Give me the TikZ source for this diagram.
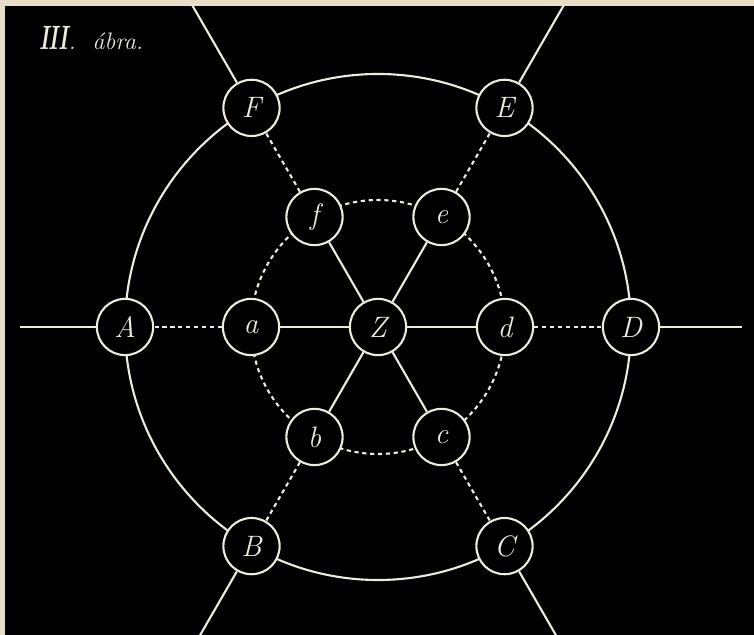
\documentclass[tikz,border=0pt]{standalone}
\usetikzlibrary{calc}
\definecolor{chalk}{RGB}{238,234,222}
\definecolor{paper}{RGB}{232,222,200}
\begin{document}
\begin{tikzpicture}[x=0.025cm,y=0.025cm,
		line width=1.5pt,
		knot/.style={circle,draw=chalk,fill=black,minimum size=40,inner sep=0pt,
			font=\fontsize{21}{24}\selectfont\itshape,text=chalk},
		dotted line/.style={chalk,dash pattern=on 3pt off 2.6pt}]
		% fond
		\fill[paper] (0,0) rectangle (754,635);
		\fill[black] (5,0) rectangle (754,629);
		\useasboundingbox (0,0) rectangle (754,635);
		
		\coordinate (Z0) at (378,308);
		\begin{scope}
			\clip (5,0) rectangle (754,629);
			% rayons exterieurs
			\coordinate (Ao) at (20,308);
			\coordinate (Do) at (742,308);
			\coordinate (Eo) at ($(Z0)+(60:380)$);
			\coordinate (Fo) at ($(Z0)+(120:380)$);
			\coordinate (Bo) at ($(Z0)+(240:380)$);
			\coordinate (Co) at ($(Z0)+(300:380)$);
			% cercles
			\draw[chalk] (Z0) circle[radius=253];
			\draw[dotted line] (Z0) circle[radius=127];
			
			\node[knot] (Z) at (Z0) {Z};
			\node[knot] (A) at ($(Z0)+(180:253)$) {A};
			\node[knot] (B) at ($(Z0)+(240:253)$) {B};
			\node[knot] (C) at ($(Z0)+(300:253)$) {C};
			\node[knot] (D) at ($(Z0)+(0:253)$) {D};
			\node[knot] (E) at ($(Z0)+(60:253)$) {E};
			\node[knot] (F) at ($(Z0)+(120:253)$) {F};
			\node[knot] (a) at ($(Z0)+(180:127)$) {a};
			\node[knot] (b) at ($(Z0)+(240:127)$) {b};
			\node[knot] (c) at ($(Z0)+(300:127)$) {c};
			\node[knot] (d) at ($(Z0)+(0:127)$) {d};
			\node[knot] (e) at ($(Z0)+(60:127)$) {e};
			\node[knot] (f) at ($(Z0)+(120:127)$) {f};
			
			% rayons pleins
			\foreach \p in {a,b,c,d,e,f}
				\draw[chalk] (Z) -- (\p);
			\foreach \p in {A,B,C,D,E,F}
				\draw[chalk] (\p) -- (\p o);
			% rayons pointilles
			\draw[dotted line] (a) -- (A);
			\draw[dotted line] (b) -- (B);
			\draw[dotted line] (c) -- (C);
			\draw[dotted line] (d) -- (D);
			\draw[dotted line] (e) -- (E);
			\draw[dotted line] (f) -- (F);
		\end{scope}
		
		\node[anchor=base west,text=chalk,inner sep=0pt] (title) at (38,585)
			{\scalebox{0.62}[1]{\fontsize{24}{26}\selectfont\bfseries\itshape III}{\fontsize{17}{19}\selectfont\itshape.\ \ ábra.}};
	\end{tikzpicture}
\end{document}
